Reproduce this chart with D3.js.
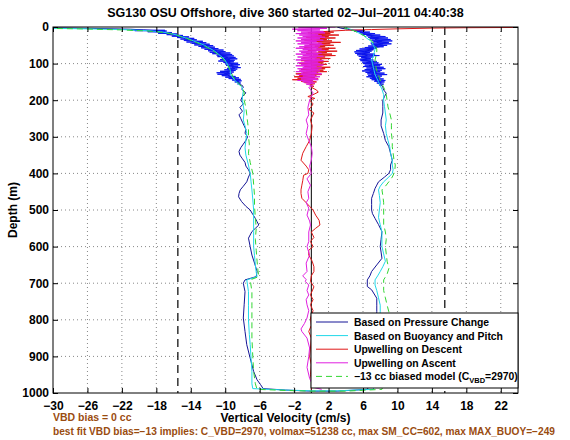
<!DOCTYPE html>
<html><head><meta charset="utf-8">
<script src="https://cdn.jsdelivr.net/npm/d3@7"></script>
<style>
body{margin:0;background:#fff}
text{font-family:"Liberation Sans",Arial,Helvetica,sans-serif;font-weight:bold}
</style>
</head><body>
<svg id="chart" width="570" height="440"></svg>
<script>
// ---------------- DATA ----------------
const titleText = "SG130 OSU Offshore, dive 360 started 02\u2013Jul\u20132011 04:40:38";
const xLabel = "Vertical Velocity (cm/s)";
const yLabel = "Depth (m)";
const xTicks = [-30,-26,-22,-18,-14,-10,-6,-2,2,6,10,14,18,22];
const yTicks = [0,100,200,300,400,500,600,700,800,900,1000];
const maxSpeedLines = [-15.5, 15.5];
const noteLine1 = "VBD bias = 0 cc";
const noteLine2 = "best fit VBD bias=\u221213 implies: C_VBD=2970, volmax=51238 cc, max SM_CC=602, max MAX_BUOY=\u2212249";
const legendLabels = ["Based on Pressure Change","Based on Buoyancy and Pitch","Upwelling on Descent","Upwelling on Ascent","\u221213 cc biased model (C"];

// [depth (m), vertical velocity (cm/s)]
const wPressure = [
 [0,-36],[2,-30],[4,-25],[6,-21],[8,-19.5],[10,-18],[12,-18.6],[14,-17],[16,-17.6],[18,-16.3],[20,-16.6],[23,-15.5],[26,-15.6],[29,-14.6],[32,-14.8],[35,-13.9],[38,-14.0],[41,-13.2],[44,-13.4],[47,-12.6],[50,-12.7],[53,-12.0],[56,-12.2],[59,-11.5],[62,-11.6],[65,-11.0],[68,-11.2],[71,-10.5],[74,-10.8],[77,-10.1],[80,-10.4],[83,-9.7],[86,-10.1],[89,-9.5],[92,-9.9],[95,-9.4],[98,-9.6],[101,-9.1],[104,-9.4],[107,-9.0],[110,-9.2],[113,-8.9],[116,-9.4],[119,-9.3],[122,-9.9],[125,-9.6],[128,-10.1],[131,-9.6],[134,-9.6],[137,-9.1],[140,-9.2],[143,-8.7],[146,-8.8],[150,-8.4],[155,-8.5],
 [160,-8.0],[165,-7.9],[170,-8.1],[180,-7.6],[190,-8.0],[200,-8.2],[210,-7.9],[220,-8.3],[230,-8.0],[240,-8.4],[250,-8.2],[260,-8.0],[270,-7.8],[280,-7.6],[290,-7.7],[300,-7.4],[310,-7.6],[320,-7.9],[330,-8.2],[340,-8.4],[350,-8.3],[360,-8.0],[370,-7.7],[380,-7.6],[390,-7.3],[400,-7.1],[410,-7.3],[423,-7.5],[435,-7.9],[445,-8.25],[455,-8.4],[464,-8.45],[477,-8.1],[490,-7.6],[500,-7.1],[512,-6.8],[523,-6.5],[532,-6.3],[541,-6.1],[550,-6.5],[559,-6.9],[577,-7.3],[600,-7.1],[623,-6.9],[645,-6.6],[668,-6.3],[682,-6.4],[691,-7.7],[700,-7.9],[723,-7.7],[759,-7.8],[795,-7.9],[832,-7.7],[868,-7.5],[905,-7.1],[941,-6.7],[964,-6.3],[977,-5.9],[988,-5.6],[992,-3],[995,0],[995,3],
 [990,6.5],[960,7.2],[900,7.4],[850,7.5],[800,7.6],[777,7.6],[760,7.6],[741,7.6],[718,7.0],[709,6.5],[691,6.5],[680,6.8],[668,7.0],[650,7.6],[632,8.2],[615,8.1],[600,8.0],[580,8.1],[559,8.2],[540,7.8],[523,7.4],[510,7.1],[500,7.0],[485,7.0],[468,7.0],[455,7.2],[441,7.4],[432,7.6],[423,7.8],[410,8.5],[400,9.0],[390,9.2],[377,9.2],[364,9.4],[345,9.2],[327,9.0],[310,8.6],[291,8.4],[270,8.1],[254,8.1],[235,8.3],[218,8.3],[200,8.3],[190,8.5],[181,8.7],[172,8.4],[165,8.3],
 [160,8.2],[155,7.8],[150,8.0],[146,7.4],[142,7.9],[138,7.1],[134,7.6],[130,7.0],[126,7.6],[122,6.8],[118,7.4],[114,7.0],[110,7.5],[106,6.7],[102,7.2],[98,6.4],[94,6.9],[90,6.0],[86,6.5],[82,5.8],[78,6.5],[74,5.9],[70,6.6],[66,6.2],[62,7.2],[58,6.8],[54,7.9],[50,7.4],[46,8.3],[42,7.6],[38,8.2],[34,7.4],[30,7.8],[26,6.9],[22,7.0],[18,6.1],[14,5.8],[10,5.0],[6,4.2],[3,3.4],[0,3.0]
];
// raw (unsmoothed) pressure-change velocity in the noisy upper layer
const wPressureRawDesc = [
 [8,-21],[9,-17],[10,-20.5],[11,-16.8],[13,-19],[15,-16.2],[17,-17.8],[19,-15.6],[21,-16.8],[23,-14.9],[25,-16.2],[27,-14.2],[29,-15.6],[31,-13.6],[33,-15.2],[35,-13.3],[37,-14.8],[39,-12.6],[41,-14.5],[43,-12.2],[45,-13.9],[47,-11.8],[49,-13.6],[51,-11.4],[53,-13.1],[55,-11.2],[57,-12.8],[59,-10.8],[61,-12.4],[63,-10.2],[65,-12],[67,-10],[69,-11.8],[71,-9.4],[73,-11.5],[75,-9.2],[77,-11],[79,-9],[81,-10.9],[83,-8.8],[85,-10.4],[87,-8.6],[89,-10.6],[91,-8.9],[93,-10.8],[95,-9],[97,-10.2],[99,-8.5],[101,-10],[103,-8.3],[105,-9.9],[107,-8.5],[109,-9.6],[111,-8.2],[113,-9.8],[115,-8.6],[117,-10.1],[119,-8.8],[121,-10.6],[123,-9],[125,-11],[127,-9.2],[129,-10.9],[131,-9.4],[133,-10.4],[135,-8.8],[137,-10],[139,-8.4],[141,-9.6],[143,-8.2],[145,-9.2],[147,-8.1],[150,-8.9],[153,-8.2],[156,-8.6]
];
const wPressureRawAsc = [
 [8,4.6],[10,6.2],[12,5.0],[14,6.8],[16,5.6],[18,7.4],[20,5.8],[22,8.0],[24,6.4],[26,8.6],[28,6.6],[30,8.9],[32,6.8],[34,9.2],[36,7.0],[38,9.4],[40,7.2],[42,9.0],[44,6.9],[46,9.3],[48,7.0],[50,8.8],[52,6.6],[54,8.4],[56,6.2],[58,7.6],[60,5.6],[62,7.2],[64,5.2],[66,7.0],[68,5.0],[70,6.8],[72,5.1],[74,7.4],[76,5.3],[78,7.9],[80,5.5],[82,7.2],[84,5.8],[86,6.9],[88,5.6],[90,7.2],[92,5.7],[94,7.6],[96,5.9],[98,7.8],[100,6.0],[102,8.2],[104,6.2],[106,8.0],[108,6.0],[110,8.4],[112,6.4],[114,8.6],[116,6.2],[118,8.2],[120,5.9],[122,8.0],[124,6.3],[126,8.5],[128,6.5],[130,8.8],[132,6.6],[134,8.2],[136,6.4],[138,8.0],[140,6.8],[142,8.4],[144,7.0],[146,8.6],[148,7.3],[150,8.5],[153,7.6],[156,8.4],[160,7.9]
];
const wBuoyancy = [
 [0,-40],[3,-32],[5,-26],[7,-22],[10,-19],[13,-17.5],[17,-16.5],[22,-15.6],[27,-15],[32,-14.3],[38,-13.7],[44,-13.0],[50,-12.4],[56,-12.0],[62,-11.5],[68,-11.1],[74,-10.8],[80,-10.5],[88,-10.1],[96,-9.9],[104,-9.7],[112,-9.5],[120,-9.4],[128,-9.4],[136,-9.2],[145,-8.9],[155,-8.5],[163,-8.1],[175,-7.9],[190,-8.0],[200,-8.0],[215,-7.9],[230,-7.8],[254,-7.9],[270,-7.7],[291,-7.5],[310,-7.6],[330,-7.7],[350,-7.6],[377,-7.3],[400,-7.1],[423,-7.0],[445,-6.9],[470,-6.8],[500,-6.7],[530,-6.7],[559,-6.7],[600,-6.7],[625,-6.6],[650,-6.5],[670,-6.4],[682,-6.3],[691,-7.5],[723,-7.3],[760,-7.3],[800,-7.3],[840,-7.2],[868,-7.1],[905,-7.0],[941,-6.9],[975,-6.9],[988,-6.8],[992,-3],[994,0],[994,3],
 [990,7.2],[950,7.6],[900,7.7],[850,7.8],[800,7.9],[778,8.0],[760,8.0],[740,7.8],[720,7.6],[705,7.4],[691,7.4],[680,7.7],[668,8.0],[655,8.3],[640,8.6],[620,8.4],[600,8.2],[580,8.2],[560,8.2],[540,8.0],[520,7.8],[500,7.9],[480,8.0],[460,7.9],[445,7.8],[435,8.0],[423,8.4],[410,9.0],[400,9.4],[390,9.5],[377,9.4],[364,9.4],[345,9.2],[327,9.1],[310,8.9],[291,8.7],[270,8.6],[254,8.7],[235,8.6],[218,8.5],[200,8.4],[185,8.4],[170,8.2],[160,8.0],[150,7.8],[140,7.6],[130,7.4],[120,7.3],[110,7.2],[100,7.1],[90,7.0],[80,7.2],[70,7.3],[60,7.4],[50,7.2],[40,7.0],[30,6.4],[22,6.0],[15,5.4],[10,5.0],[5,4.4],[2,4.0],[0,4.2]
];
const wUpDescent = [
 [0,40],[1,26],[2,18],[3,14],[5,10],[7,7],[9,4],[11,2.4],[13,1.2],
 [14,2.6],[16,-0.4],[18,2.2],[20,0.4],[22,3.2],[24,0.0],[26,2.0],[28,-0.6],[30,2.8],[32,0.6],[34,1.8],[36,-0.8],[38,2.4],[40,0.2],[42,3.4],[44,0.8],[46,2.2],[48,-0.2],[50,2.6],[52,0.4],[54,1.6],[56,-0.8],[58,2.8],[60,0.6],[62,2.0],[64,-0.4],[66,3.0],[68,0.8],[70,1.8],[72,-0.6],[74,2.4],[76,0.2],[78,2.8],[80,-0.2],[82,1.6],[84,-1.0],[86,2.2],[88,0.4],[90,1.2],[92,-1.2],[94,2.0],[96,-0.2],[98,1.4],[100,-1.4],[102,1.8],[104,0.0],[106,1.2],[108,-0.8],[110,2.2],[112,0.0],[114,1.6],[116,-1.2],[118,1.4],[120,-0.6],[122,1.8],[124,-1.0],[126,0.8],[128,-1.8],[130,1.2],[132,-1.4],[134,0.6],[136,-2.0],[138,0.4],[140,-1.6],[142,0.8],[144,-2.2],[146,0.2],[148,-1.2],[150,0.6],[152,-0.8],[155,0.4],[158,-0.2],[162,0.3],
 [165,0.0],[172,0.6],[178,0.8],[185,0.2],[190,-0.4],[195,0.4],[200,-0.2],[210,0.2],[218,0.0],[225,-0.3],[235,0.3],[254,-0.1],[270,0.1],[291,0.0],[310,-0.2],[327,-0.6],[345,-1.0],[364,-1.2],[380,-0.6],[390,-0.3],[400,-0.4],[405,-0.9],[420,-1.0],[432,-1.1],[445,-1.2],[455,-1.2],[468,-1.1],[480,-0.6],[490,-0.2],[500,0.2],[514,0.5],[528,0.9],[541,1.0],[550,0.5],[560,0.0],[575,0.3],[586,-0.1],[600,0.2],[610,-0.3],[623,-0.3],[640,0.1],[655,0.3],[668,0.3],[680,0.0],[695,-0.1],[710,0.3],[732,-0.1],[745,0.2],[759,-0.1],[775,0.2],[795,-0.1],[815,0.0],[832,-0.3],[850,0.0],[877,-0.1],[900,-0.2],[923,0.0],[950,-0.1],[975,0.1],[990,0.0]
];
const wUpAscent = [
 [0,2.8],[2,-1.5],[4,1.8],[6,-2.2],[8,1.0],[10,-1.6],[12,1.4],[14,-1.2],[16,1.6],[18,-1.8],[20,0.8],[22,-1.4],[24,1.2],[26,-1.0],[28,1.6],[30,-1.6],[32,1.0],[34,-1.2],[36,1.4],[38,-1.8],[40,0.6],[42,-1.2],[44,1.2],[46,-1.6],[48,1.4],[50,-0.8],[52,1.0],[54,-1.4],[56,0.8],[58,-1.8],[60,1.2],[62,-1.0],[64,1.6],[66,-1.4],[68,0.6],[70,-1.2],[72,1.2],[74,-1.8],[76,0.8],[78,-1.0],[80,1.4],[82,-1.6],[84,0.6],[86,-1.2],[88,1.0],[90,-1.8],[92,1.4],[94,-0.8],[96,0.8],[98,-1.6],[100,1.0],[102,-1.2],[104,1.4],[106,-1.8],[108,0.6],[110,-1.0],[112,1.2],[114,-1.6],[116,0.8],[118,-1.4],[120,1.0],[122,-1.8],[124,0.6],[126,-1.2],[128,1.2],[130,-1.6],[132,0.4],[134,-1.0],[136,1.0],[138,-1.4],[140,0.6],[142,-1.2],[144,0.8],[146,-1.6],[148,0.2],[150,-1.0],[153,0.4],[156,-0.6],[160,0.2],
 [165,-0.3],[180,0.2],[200,-0.2],[220,-0.4],[240,-0.3],[254,-0.6],[270,-0.4],[291,-0.6],[310,-0.3],[327,0.0],[345,0.1],[364,0.0],[380,-0.2],[400,0.0],[415,-0.5],[432,-0.1],[450,-0.4],[468,-0.3],[480,-0.6],[495,-0.3],[514,-0.5],[530,-0.2],[541,-0.1],[560,-0.3],[586,-0.3],[600,-0.5],[623,-0.2],[645,-0.6],[668,-0.5],[680,-1.0],[690,-0.6],[695,-0.7],[705,-0.3],[720,-0.5],[732,-0.3],[745,-0.6],[759,-0.5],[775,-0.3],[795,-0.5],[810,-0.8],[825,-1.2],[832,-1.1],[850,-0.5],[877,-0.2],[900,-0.3],[930,-0.5],[960,-0.2],[985,0.3],[990,1.2]
];
const wModel = [
 [0,-40],[3,-33],[5,-27],[8,-22],[11,-19],[15,-17.2],[20,-16],[26,-15.2],[32,-14.4],[38,-13.8],[44,-13.2],[50,-12.6],[56,-12.1],[62,-11.6],[70,-11.1],[78,-10.7],[86,-10.3],[95,-10.0],[105,-9.7],[115,-9.5],[125,-9.3],[135,-9.1],[145,-8.8],[155,-8.4],[165,-8.0],[180,-7.8],[200,-7.8],[220,-7.6],[240,-7.5],[260,-7.4],[280,-7.3],[300,-7.3],[320,-7.2],[345,-7.3],[370,-7.1],[400,-6.8],[430,-6.7],[460,-6.6],[490,-6.6],[520,-6.5],[550,-6.4],[580,-6.5],[610,-6.4],[640,-6.3],[665,-6.2],[682,-6.1],[691,-7.1],[723,-6.9],[760,-6.9],[800,-6.9],[850,-6.9],[900,-6.8],[941,-6.7],[975,-6.5],[990,-6.3],[993,-3],[995,0],[995,4],
 [990,8.2],[950,8.6],[900,8.7],[850,8.8],[800,8.9],[778,9.0],[760,8.8],[740,8.6],[720,8.4],[705,8.4],[691,8.4],[675,8.8],[660,9.0],[640,8.8],[620,8.7],[600,8.6],[580,8.7],[560,8.6],[540,8.4],[520,8.4],[500,8.4],[480,8.4],[460,8.3],[445,8.2],[435,8.6],[423,9.0],[410,9.4],[400,9.6],[390,9.7],[377,9.75],[364,9.6],[345,9.5],[327,9.4],[310,9.4],[291,9.3],[270,9.3],[254,9.3],[235,9.1],[218,8.9],[200,8.8],[185,8.7],[170,8.5],[160,8.3],[150,8.1],[140,7.9],[130,7.8],[120,7.6],[110,7.5],[100,7.4],[90,7.4],[80,7.5],[70,7.6],[60,7.6],[50,7.4],[40,7.1],[30,6.6],[22,6.0],[15,5.4],[10,4.9],[5,4.2],[2,3.8],[0,3.8]
];

// ---------------- DRAW ----------------
const svg = d3.select("#chart");
const L = 53, R = 518, T = 27, B = 393;
const x = d3.scaleLinear().domain([-30, 24]).range([L, R]);
const y = d3.scaleLinear().domain([0, 1000]).range([T, B]);

svg.append("defs").append("clipPath").attr("id","clip")
  .append("rect").attr("x",L).attr("y",T).attr("width",R-L).attr("height",B-T);

// grid
const grid = svg.append("g");
grid.selectAll(".gx").data(xTicks.slice(1)).join("line")
  .attr("x1",d=>x(d)).attr("x2",d=>x(d)).attr("y1",T).attr("y2",B)
  .attr("stroke","#888").attr("stroke-width",1).attr("stroke-dasharray","1,3");
grid.selectAll(".gy").data(yTicks.slice(1,-1)).join("line")
  .attr("x1",L).attr("x2",R).attr("y1",d=>y(d)).attr("y2",d=>y(d))
  .attr("stroke","#888").attr("stroke-width",1).attr("stroke-dasharray","1,3");

const plot = svg.append("g").attr("clip-path","url(#clip)");
const line = d3.line().x(d=>x(d[1])).y(d=>y(d[0]));

// reference lines
plot.append("line").attr("x1",x(0)).attr("x2",x(0)).attr("y1",T).attr("y2",B)
  .attr("stroke","#000").attr("stroke-width",1);
plot.selectAll(".ms").data(maxSpeedLines).join("line")
  .attr("x1",d=>x(d)).attr("x2",d=>x(d)).attr("y1",T).attr("y2",B)
  .attr("stroke","#000").attr("stroke-width",1.2).attr("stroke-dasharray","8,5");

const series = [
  {d:wPressure, c:"#141496", dash:null},
  {d:wPressureRawDesc, c:"#0a14f0", dash:null},
  {d:wPressureRawAsc, c:"#0a14f0", dash:null},
  {d:wBuoyancy, c:"#20d8e8", dash:null},
  {d:wUpDescent, c:"#e01818", dash:null},
  {d:wUpAscent, c:"#e020e0", dash:null},
  {d:wModel, c:"#33d633", dash:"6,4"}
];
series.forEach(s=>{
  plot.append("path").attr("d",line(s.d)).attr("fill","none")
    .attr("stroke",s.c).attr("stroke-width",1)
    .attr("stroke-dasharray",s.dash);
});

// frame
svg.append("rect").attr("x",L).attr("y",T).attr("width",R-L).attr("height",B-T)
  .attr("fill","none").attr("stroke","#000").attr("stroke-width",1);

// axes
const fmt = d3.format("d");
const xAxis = d3.axisBottom(x).tickValues(xTicks).tickSize(-5).tickPadding(8).tickFormat(fmt);
const xg = svg.append("g").attr("transform",`translate(0,${B})`).call(xAxis);
const xAxisTop = d3.axisTop(x).tickValues(xTicks).tickSize(-5).tickFormat("");
const xgt = svg.append("g").attr("transform",`translate(0,${T})`).call(xAxisTop);
const yAxis = d3.axisLeft(y).tickValues(yTicks).tickSize(-5).tickPadding(4).tickFormat(fmt);
const yg = svg.append("g").attr("transform",`translate(${L},0)`).call(yAxis);
const yAxisR = d3.axisRight(y).tickValues(yTicks).tickSize(-5).tickFormat("");
const ygr = svg.append("g").attr("transform",`translate(${R},0)`).call(yAxisR);
[xg,xgt,yg,ygr].forEach(g=>{
  g.select(".domain").remove();
  g.selectAll("line").attr("stroke","#000");
  g.selectAll("text").attr("fill","#000").style("font-size","12px")
    .style("font-family","'Liberation Sans',Arial,sans-serif").style("font-weight","bold");
});

// title & labels
svg.append("text").attr("x",(L+R)/2).attr("y",17).attr("text-anchor","middle")
  .style("font-size","12.5px").text(titleText);
svg.append("text").attr("x",(L+R)/2).attr("y",422).attr("text-anchor","middle")
  .style("font-size","12px").text(xLabel);
svg.append("text").attr("transform",`translate(17,${(T+B)/2}) rotate(-90)`)
  .attr("text-anchor","middle").style("font-size","12px").text(yLabel);
svg.append("text").attr("x",53).attr("y",421).attr("fill","#9a4c10")
  .style("font-size","10.5px").text(noteLine1);
svg.append("text").attr("x",53).attr("y",435).attr("fill","#9a4c10")
  .style("font-size","10.2px").attr("textLength",502).attr("lengthAdjust","spacingAndGlyphs")
  .text(noteLine2);

// legend
const colors = ["#141496","#20d8e8","#e01818","#e020e0","#33d633"];
const lg = svg.append("g");
lg.append("rect").attr("x",311).attr("y",313).attr("width",207).attr("height",75)
  .attr("fill","#fff").attr("stroke","#000").attr("stroke-width",1);
legendLabels.forEach((lab,i)=>{
  const yy = 322 + i*13.6;
  lg.append("line").attr("x1",316).attr("x2",348).attr("y1",yy).attr("y2",yy)
    .attr("stroke",colors[i]).attr("stroke-width",1)
    .attr("stroke-dasharray", i===4 ? "6,4" : null);
  const t = lg.append("text").attr("x",354).attr("y",yy+4).style("font-size","10.4px");
  t.append("tspan").text(lab);
  if(i===4){
    t.append("tspan").attr("dy",3).style("font-size","7.5px").text("VBD");
    t.append("tspan").attr("dy",-3).text("=2970)");
  }
});
</script>
</body></html>
